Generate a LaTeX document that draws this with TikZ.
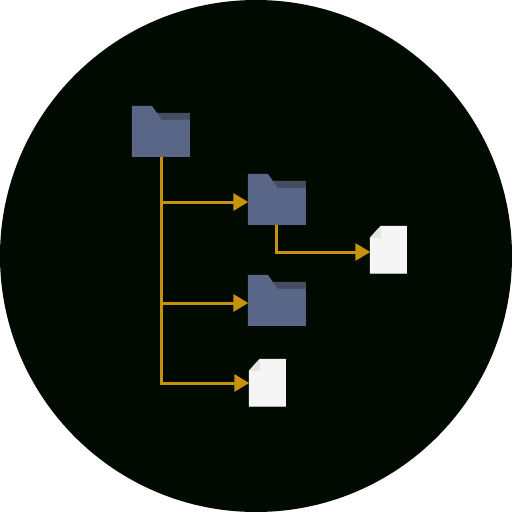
\documentclass[tikz,border=0pt]{standalone}
\usetikzlibrary{arrows.meta}
\definecolor{discbg}{HTML}{010A01}
\definecolor{foldercol}{HTML}{5A6688}
\definecolor{tabcol}{HTML}{454E60}
\definecolor{filecol}{HTML}{F5F5F5}
\definecolor{cornercol}{HTML}{E4E4E4}
\definecolor{edgecol}{HTML}{8A8A8A}
\definecolor{linkcol}{HTML}{C8930A}
\tikzset{
    folder/.style={rectangle, minimum width=58pt, minimum height=51pt, inner sep=0pt},
    docfile/.style={rectangle, minimum width=37pt, minimum height=48pt, inner sep=0pt},
    link/.style={draw=linkcol, line width=3pt},
    linktip/.style={-{Triangle[length=15pt, width=17pt]}, link, shorten >=-0.5pt}
}
\begin{document}
\begin{tikzpicture}[x=1pt, y=-1pt]
    \useasboundingbox (0,0) rectangle (512,512);
    \fill[discbg] (256,256) circle (256);
    \node[folder] (root) at (161,131.5) {};
    \node[folder] (sub1) at (277,199.5) {};
    \node[folder] (sub2) at (277,300.5) {};
    \node[docfile] (file1) at (388.5,250) {};
    \node[docfile] (file2) at (267.5,383) {};
    \foreach \n in {root,sub1,sub2} {
        \begin{scope}[shift={(\n.north west)}]
            \fill[tabcol] (24,7) -- (58,7) -- (58,14) -- (30,14) -- cycle;
            \fill[foldercol] (0,0) -- (20,0) -- (30,14) -- (58,14) -- (58,51) -- (0,51) -- cycle;
        \end{scope}
    }
    \foreach \n in {file1,file2} {
        \begin{scope}[shift={(\n.north west)}]
            \fill[edgecol] (0,47) rectangle (37,48.5);
            \fill[filecol] (11,0) -- (37,0) -- (37,47.5) -- (0,47.5) -- (0,12) -- cycle;
            \fill[cornercol] (11,0) -- (11,12) -- (0,12) -- cycle;
        \end{scope}
    }
    \draw[linktip] (root.south) |- ([yshift=-2.5pt]sub1.west);
    \draw[linktip] (root.south) |- ([yshift=-2.5pt]sub2.west);
    \draw[linktip] (root.south) |- (file2.west);
    \draw[linktip] ([xshift=-1pt]sub1.south) |- ([yshift=-2pt]file1.west);
\end{tikzpicture}
\end{document}
